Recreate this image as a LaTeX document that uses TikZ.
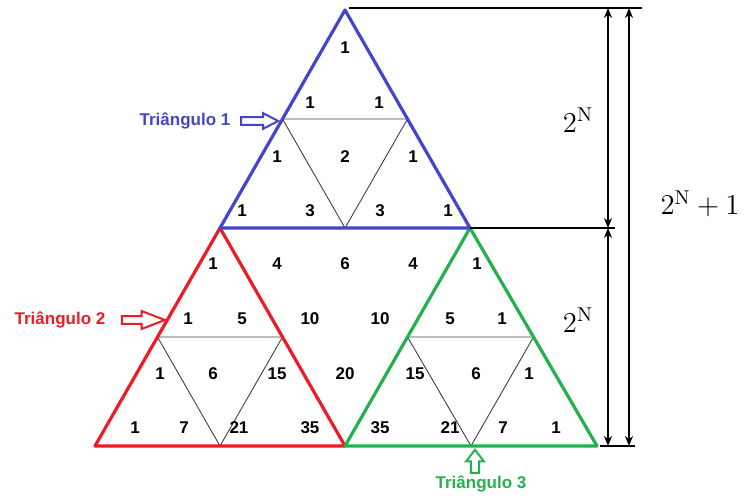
\documentclass[tikz,border=0pt]{standalone}
\usepackage{fontspec}
\setsansfont{Liberation Sans}
\usetikzlibrary{arrows.meta,shapes.arrows,calc}
\definecolor{TriBlue}{RGB}{68,68,204}
\definecolor{TriRed}{RGB}{237,28,36}
\definecolor{TriGreen}{RGB}{34,177,76}
\tikzset{
  side/.style={line width=1.6pt, line join=round},
  inner/.style={line width=0.45pt, black!75},
  num/.style={font=\sffamily\bfseries\fontsize{8.5}{10}\selectfont, inner sep=0pt},
  trilabel/.style={font=\sffamily\bfseries\fontsize{8.5}{10}\selectfont, inner sep=0pt},
  hollow/.style={single arrow, draw, line width=1pt, fill=white, inner sep=1.4pt,
    minimum height=18pt, single arrow head extend=2.4pt, single arrow tip angle=55},
  dimline/.style={line width=0.9pt},
  dimarrow/.style={{Stealth[length=5pt,width=4pt]}-{Stealth[length=5pt,width=4pt]}, line width=0.6pt},
  dimlabel/.style={font=\Large, inner sep=0pt},
}

\begin{document}
\begin{tikzpicture}[x=0.5pt, y=-0.5pt]
  \useasboundingbox (0,0) rectangle (745,498);
  % corners of the big triangle and of the three sub-triangles
  \coordinate (apex) at (345,10);
  \coordinate (bl) at (220,228);
  \coordinate (br) at (470,228);
  \coordinate (baseL) at (95,446);
  \coordinate (baseM) at (345,446);
  \coordinate (baseR) at (597,446);
  % midpoints for the thin inner triangles
  \coordinate (t1a) at ($(apex)!0.5!(bl)$);
  \coordinate (t1b) at ($(apex)!0.5!(br)$);
  \coordinate (t1c) at ($(bl)!0.5!(br)$);
  \coordinate (t2a) at ($(bl)!0.5!(baseL)$);
  \coordinate (t2b) at ($(bl)!0.5!(baseM)$);
  \coordinate (t2c) at ($(baseL)!0.5!(baseM)$);
  \coordinate (t3a) at ($(br)!0.5!(baseM)$);
  \coordinate (t3b) at ($(br)!0.5!(baseR)$);
  \coordinate (t3c) at ($(baseM)!0.5!(baseR)$);

  \draw[inner] (t1a) -- (t1b) -- (t1c) -- cycle;
  \draw[inner] (t2a) -- (t2b) -- (t2c) -- cycle;
  \draw[inner] (t3a) -- (t3b) -- (t3c) -- cycle;

  \draw[side, TriRed] (bl) -- (baseL) -- (baseM) -- cycle;
  \draw[side, TriGreen] (br) -- (baseM) -- (baseR) -- cycle;
  \draw[side, TriBlue] (apex) -- (bl) -- (br) -- cycle;

  % Pascal numbers, row by row
  \foreach \v/\x [count=\i] in {1/345}
    \node[num] (r0c\i) at (\x,48) {\v};
  \foreach \v/\x [count=\i] in {1/310, 1/379}
    \node[num] (r1c\i) at (\x,103) {\v};
  \foreach \v/\x [count=\i] in {1/277, 2/345, 1/413}
    \node[num] (r2c\i) at (\x,157) {\v};
  \foreach \v/\x [count=\i] in {1/242, 3/310, 3/380, 1/448}
    \node[num] (r3c\i) at (\x,211) {\v};
  \foreach \v/\x [count=\i] in {1/213, 4/277, 6/345, 4/413, 1/477}
    \node[num] (r4c\i) at (\x,264) {\v};
  \foreach \v/\x [count=\i] in {1/188, 5/242, 10/310, 10/380, 5/450, 1/502}
    \node[num] (r5c\i) at (\x,319) {\v};
  \foreach \v/\x [count=\i] in {1/160, 6/213, 15/277, 20/345, 15/415, 6/476, 1/529}
    \node[num] (r6c\i) at (\x,374) {\v};
  \foreach \v/\x [count=\i] in {1/135, 7/184, 21/239, 35/310, 35/380, 21/450, 7/503, 1/556}
    \node[num] (r7c\i) at (\x,428) {\v};

  % labels of the three sub-triangles
  \node[trilabel, text=TriBlue] (lab1) at (185,121) {Triângulo 1};
  \node[hollow, draw=TriBlue, minimum height=18.5pt, single arrow head extend=2pt] (arr1) at (256,121) {};
  \node[trilabel, text=TriRed] (lab2) at (60,320) {Triângulo 2};
  \node[hollow, draw=TriRed, minimum height=21.5pt, single arrow tip angle=42,
    single arrow head extend=2.6pt] (arr2) at (138.5,320) {};
  \node[trilabel, text=TriGreen] (lab3) at (481,484) {Triângulo 3};
  \node[hollow, draw=TriGreen, shape border rotate=90, minimum height=11.5pt,
    inner sep=1.6pt, single arrow tip angle=75, single arrow head extend=2.4pt] (arr3) at (475,464) {};

  % dimension lines
  \coordinate (topL) at (349,8);
  \coordinate (topR) at (642,8);
  \coordinate (midR) at (615,228);
  \coordinate (botL) at (600,446);
  \coordinate (botR) at (635,446);
  \coordinate (inTop) at (608,8);
  \coordinate (inMid) at (608,228);
  \coordinate (inBot) at (608,446);
  \coordinate (outTop) at (629,8);
  \coordinate (outBot) at (629,446);
  \draw[dimline] (topL) -- (topR);
  \draw[dimline] (br) -- (midR);
  \draw[dimline] (botL) -- (botR);
  \draw[dimarrow] (inTop) -- (inMid);
  \draw[dimarrow] (inMid) -- (inBot);
  \draw[dimarrow] (outTop) -- (outBot);
  \node[dimlabel] (h1) at (578,120) {$2^{\mathrm{N}}$};
  \node[dimlabel] (h2) at (578,320) {$2^{\mathrm{N}}$};
  \node[dimlabel] (h3) at (700,204) {$2^{\mathrm{N}}+1$};
\end{tikzpicture}
\end{document}
